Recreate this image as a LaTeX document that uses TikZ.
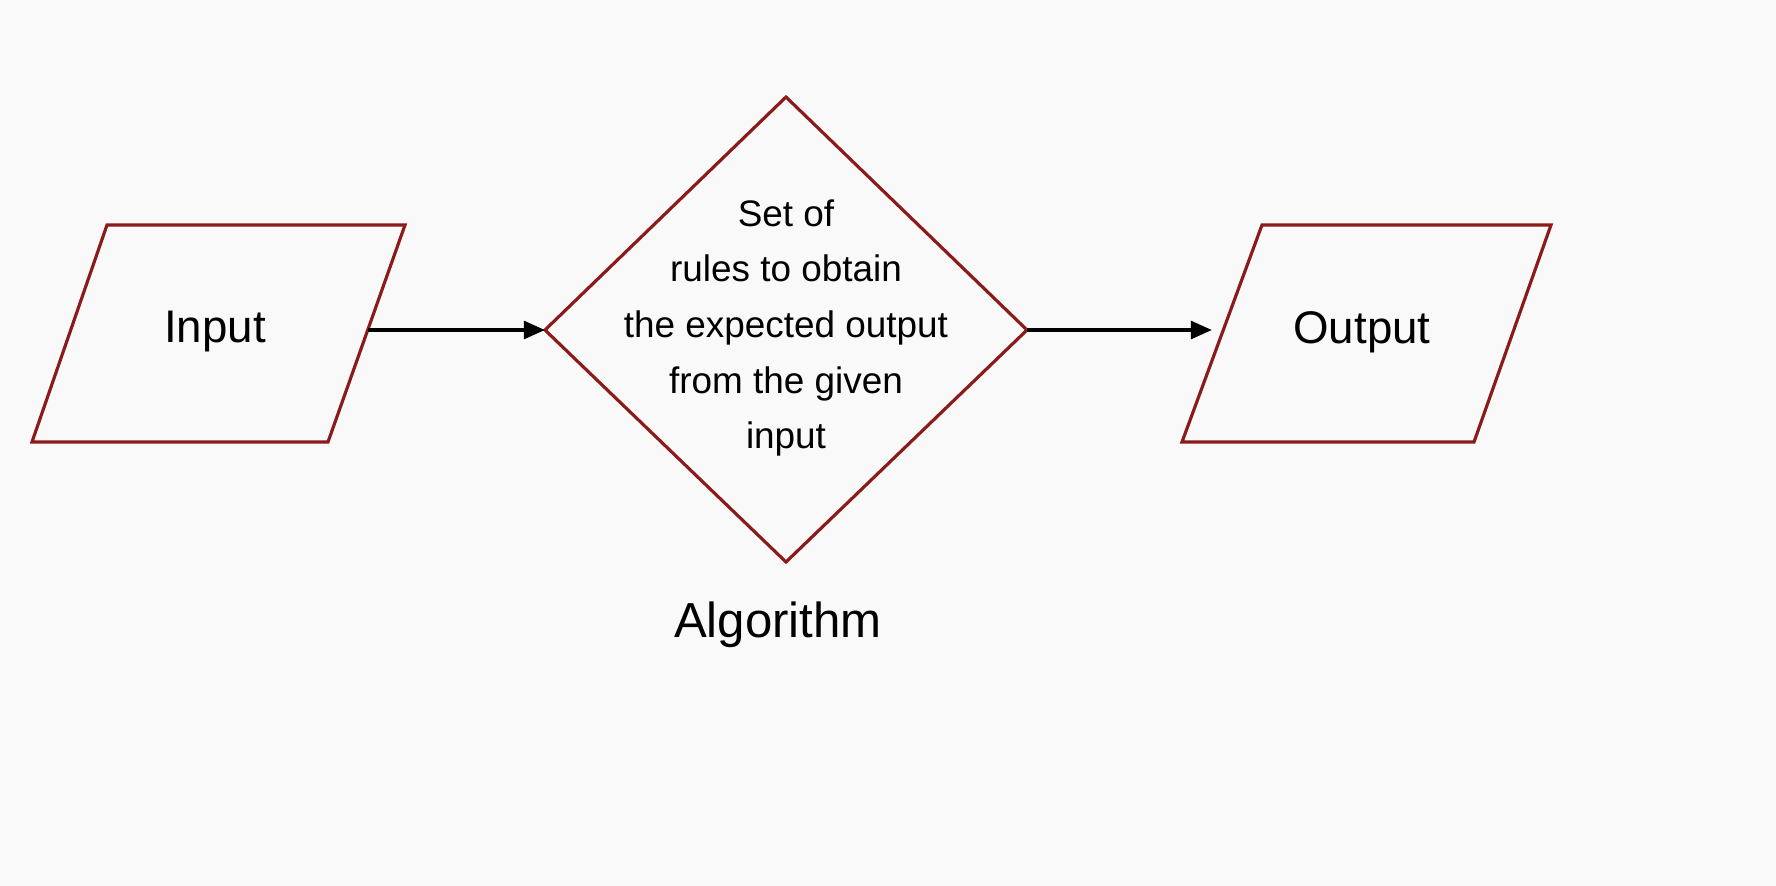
\documentclass[tikz,border=0pt]{standalone}
\usepackage{fontspec}
\setmainfont{Liberation Sans}
\usetikzlibrary{arrows.meta}
\definecolor{shp}{HTML}{8B1A1A}
\definecolor{bg}{HTML}{F9F9F9}
\begin{document}
\begin{tikzpicture}[x=0.02cm,y=-0.02cm,
  box/.style={draw=shp,line width=1.8pt,line join=miter},
  conn/.style={draw=black,line width=2.2pt,-{Triangle[length=12pt,width=10pt]}},
  lbl/.style={font=\fontsize{26}{30}\selectfont},
  dtext/.style={font=\fontsize{21}{31.7}\selectfont,align=center}]
\fill[bg] (0,0) rectangle (1776,886);
\useasboundingbox (0,0) rectangle (1776,886);
% input
\coordinate (i1) at (107,225); \coordinate (i2) at (405,225);
\coordinate (i3) at (328,442); \coordinate (i4) at (32,442);
\draw[box] (i1)--(i2)--(i3)--(i4)--cycle;
\coordinate (iR) at (368,330);
% diamond
\coordinate (dT) at (786,97); \coordinate (dR) at (1027,330);
\coordinate (dB) at (786,562); \coordinate (dL) at (545,330);
\draw[box] (dT)--(dR)--(dB)--(dL)--cycle;
% output
\coordinate (o1) at (1262,225); \coordinate (o2) at (1551,225);
\coordinate (o3) at (1474,442); \coordinate (o4) at (1182,442);
\draw[box] (o1)--(o2)--(o3)--(o4)--cycle;
\coordinate (oL) at (1212,330);
\node[lbl] (tin) at (215,332) {Input};
\node[lbl] (tout) at (1362,332) {Output};
\node[dtext] (tdia) at (786,328) {Set of\\rules to obtain\\the expected output\\from the given\\input};
\node[font=\fontsize{28}{32}\selectfont] (talg) at (778,625) {Algorithm};
\draw[conn] (iR) -- (dL);
\draw[conn] (dR) -- (oL);
\end{tikzpicture}
\end{document}
